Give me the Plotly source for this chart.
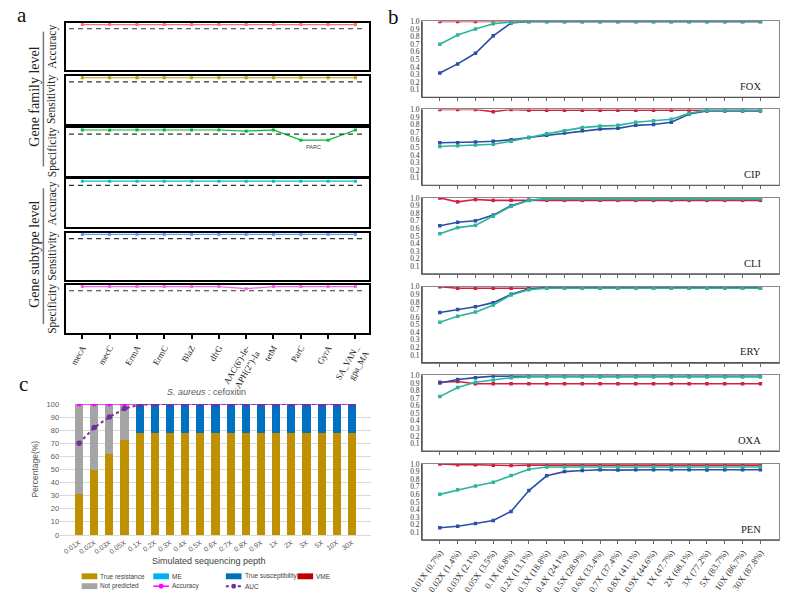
import plotly.graph_objects as go

W, H = 785, 602
SERIF = "Liberation Serif, Times New Roman, serif"
SANS = "Liberation Sans, Arial, sans-serif"

# ---------------- panel a data ----------------
genes = ["mecA", "mecC", "ErmA", "ErmC", "BlaZ", "dfrG",
         "AAC(6')-Ie-<br>APH(2'')-Ia", "tetM", "ParC", "GyrA", "SA_VAN_<br>gpa_MA"]
a_rows = ["Accuracy", "Sensitivity", "Specificity", "Accuracy", "Sensitivity", "Specificity"]
fam_accuracy = [0.99, 0.99, 0.99, 0.99, 0.99, 0.99, 0.99, 0.99, 0.99, 0.99, 0.99]
fam_sensitivity = [0.99, 0.99, 0.99, 0.99, 0.99, 0.99, 0.99, 0.99, 0.99, 0.99, 0.99]
fam_specificity = [0.99, 0.985, 0.99, 0.99, 0.99, 0.99, 0.965, 0.99, 0.77, 0.77, 0.99]
sub_accuracy = [0.99, 0.99, 0.99, 0.99, 0.99, 0.99, 0.99, 0.99, 0.99, 0.99, 0.99]
sub_sensitivity = [0.99, 0.99, 0.99, 0.99, 0.99, 0.99, 0.99, 0.99, 0.99, 0.99, 0.99]
sub_specificity = [0.99, 0.99, 0.99, 0.99, 0.99, 0.99, 0.945, 0.99, 0.99, 0.99, 0.99]
a_series = [fam_accuracy, fam_sensitivity, fam_specificity,
            sub_accuracy, sub_sensitivity, sub_specificity]
a_colors = ["#F8766D", "#B79F00", "#00BA38", "#00BFC4", "#619CFF", "#F564E3"]
a_threshold = 0.9
a_note = ("ParC", "PARC")

# ---------------- panel b data ----------------
depths_b = ["0.01X (0.7%)", "0.02X (1.4%)", "0.03X (2.1%)", "0.05X (3.5%)", "0.1X (6.8%)",
            "0.2X (13.1%)", "0.3X (18.8%)", "0.4X (24.1%)", "0.5X (28.9%)", "0.6X (33.4%)",
            "0.7X (37.4%)", "0.8X (41.1%)", "0.9X (44.6%)", "1X (47.7%)", "2X (68.1%)",
            "3X (77.2%)", "5X (83.7%)", "10X (86.7%)", "30X (87.8%)"]
drugs = ["FOX", "CIP", "CLI", "ERY", "OXA", "PEN"]
b_red = {
    "FOX": [1.0, 1.0, 1.0, 1.0, 1.0, 1.0, 1.0, 1.0, 1.0, 1.0, 1.0, 1.0, 1.0, 1.0, 1.0, 1.0, 1.0, 1.0, 1.0],
    "CIP": [1.0, 1.0, 1.0, 0.97, 1.0, 0.99, 0.99, 0.99, 0.99, 0.99, 0.99, 0.99, 0.99, 0.99, 0.99, 0.99, 0.99, 0.99, 0.99],
    "CLI": [1.0, 0.95, 0.98, 0.97, 0.97, 0.97, 0.97, 0.97, 0.97, 0.97, 0.97, 0.97, 0.97, 0.97, 0.97, 0.97, 0.97, 0.97, 0.97],
    "ERY": [1.0, 0.98, 0.98, 0.98, 0.98, 0.98, 0.98, 0.98, 0.98, 0.98, 0.98, 0.98, 0.98, 0.98, 0.98, 0.98, 0.98, 0.98, 0.98],
    "OXA": [0.91, 0.92, 0.89, 0.89, 0.89, 0.89, 0.89, 0.89, 0.89, 0.89, 0.89, 0.89, 0.89, 0.89, 0.89, 0.89, 0.89, 0.89, 0.89],
    "PEN": [1.0, 0.99, 0.99, 0.985, 0.98, 0.985, 0.985, 0.985, 0.985, 0.985, 0.985, 0.985, 0.985, 0.985, 0.985, 0.985, 0.985, 0.985, 0.985],
}
b_teal = {
    "FOX": [0.70, 0.82, 0.90, 0.97, 0.99, 1.0, 1.0, 1.0, 1.0, 1.0, 1.0, 1.0, 1.0, 1.0, 1.0, 1.0, 1.0, 1.0, 1.0],
    "CIP": [0.51, 0.52, 0.53, 0.54, 0.58, 0.63, 0.68, 0.72, 0.76, 0.78, 0.79, 0.83, 0.85, 0.87, 0.95, 0.99, 0.99, 0.99, 0.99],
    "CLI": [0.53, 0.61, 0.64, 0.76, 0.89, 0.97, 0.99, 0.99, 0.99, 0.99, 0.99, 0.99, 0.99, 0.99, 0.99, 0.99, 0.99, 0.99, 0.99],
    "ERY": [0.53, 0.61, 0.665, 0.76, 0.89, 0.96, 0.98, 0.98, 0.98, 0.98, 0.98, 0.98, 0.98, 0.98, 0.98, 0.98, 0.98, 0.98, 0.98],
    "OXA": [0.72, 0.84, 0.91, 0.94, 0.97, 0.98, 0.98, 0.98, 0.98, 0.98, 0.98, 0.98, 0.98, 0.98, 0.98, 0.98, 0.98, 0.98, 0.98],
    "PEN": [0.60, 0.66, 0.71, 0.76, 0.85, 0.93, 0.96, 0.96, 0.96, 0.96, 0.96, 0.96, 0.96, 0.96, 0.96, 0.96, 0.96, 0.96, 0.96],
}
b_blue = {
    "FOX": [0.32, 0.44, 0.58, 0.81, 0.98, 1.0, 1.0, 1.0, 1.0, 1.0, 1.0, 1.0, 1.0, 1.0, 1.0, 1.0, 1.0, 1.0, 1.0],
    "CIP": [0.56, 0.56, 0.57, 0.58, 0.60, 0.63, 0.66, 0.69, 0.72, 0.74, 0.75, 0.79, 0.80, 0.83, 0.94, 0.98, 0.98, 0.98, 0.98],
    "CLI": [0.635, 0.68, 0.70, 0.775, 0.90, 0.97, 0.99, 0.99, 0.99, 0.99, 0.99, 0.99, 0.99, 0.99, 0.99, 0.99, 0.99, 0.99, 0.99],
    "ERY": [0.66, 0.70, 0.735, 0.79, 0.90, 0.97, 0.99, 0.99, 0.99, 0.99, 0.99, 0.99, 0.99, 0.99, 0.99, 0.99, 0.99, 0.99, 0.99],
    "OXA": [0.90, 0.945, 0.97, 0.99, 0.99, 0.99, 0.99, 0.99, 0.99, 0.99, 0.99, 0.99, 0.99, 0.99, 0.99, 0.99, 0.99, 0.99, 0.99],
    "PEN": [0.16, 0.18, 0.215, 0.255, 0.375, 0.65, 0.845, 0.90, 0.915, 0.925, 0.92, 0.925, 0.925, 0.925, 0.925, 0.92, 0.925, 0.925, 0.925],
}
b_colors = {"red": "#D2203F", "teal": "#2DB49C", "blue": "#2A4FA6"}
b_ticks = [0.1, 0.2, 0.3, 0.4, 0.5, 0.6, 0.7, 0.8, 0.9, 1.0]
b_ticktext = ["0.1", "0.2", "0.3", "0.4", "0.5", "0.6", "0.7", "0.8", "0.9", "1.0"]

# ---------------- panel c data ----------------
depths_c = ["0.01X", "0.02X", "0.03X", "0.05X", "0.1X", "0.2X", "0.3X", "0.4X", "0.5X", "0.6X",
            "0.7X", "0.8X", "0.9X", "1X", "2X", "3X", "5X", "10X", "30X"]
true_resistance = [31, 49.5, 62, 72.5, 77.5, 78, 78, 78, 78, 78, 78, 78, 78, 78, 78, 78, 78, 78, 78]
me = [0, 0, 0, 0, 0, 0, 0, 0, 0, 0, 0, 0, 0, 0, 0, 0, 0, 0, 0]
true_susceptibility = [0, 0, 0, 0, 22.5, 22, 22, 22, 22, 22, 22, 22, 22, 22, 22, 22, 22, 22, 22]
vme = [0, 0, 0, 0, 0, 0, 0, 0, 0, 0, 0, 0, 0, 0, 0, 0, 0, 0, 0]
not_predicted = [69, 50.5, 38, 27.5, 0, 0, 0, 0, 0, 0, 0, 0, 0, 0, 0, 0, 0, 0, 0]
accuracy_c = [100, 100, 100, 100, 100, 100, 100, 100, 100, 100, 100, 100, 100, 100, 100, 100, 100, 100, 100]
auc_c = [70, 82, 90, 96.5, 99.5, 100, 100, 100, 100, 100, 100, 100, 100, 100, 100, 100, 100, 100, 100]
c_bar_names = ["True resistance", "ME", "True susceptibility", "VME", "Not predicted"]
c_bar_values = [true_resistance, me, true_susceptibility, vme, not_predicted]
c_bar_colors = ["#BF9000", "#00B0F0", "#0070C0", "#C00000", "#A5A5A5"]
c_ticks = [0, 10, 20, 30, 40, 50, 60, 70, 80, 90, 100]


def px(x):
    return x / W


def py(y):
    return 1 - y / H


def ax_name(i, kind):
    return f"{kind}axis" if i == 1 else f"{kind}axis{i}"


def ref(i, kind):
    return kind if i == 1 else f"{kind}{i}"


def note(text, x, y, size, family, color, angle=0, xanchor="center"):
    return dict(text=text, x=px(x), y=py(y), xref="paper", yref="paper",
                xanchor=xanchor, yanchor="middle", textangle=angle, showarrow=False,
                font=dict(family=family, size=size, color=color))


fig = go.Figure()
layout = {}
shapes = []
annotations = []

# ---------------- panel a ----------------
a_left, a_right = 54, 363
a_tops = [19, 73, 126, 178, 232, 285]
a_h = 48.5
for k in range(6):
    i = k + 1
    bottom = (k == 5)
    fig.add_trace(go.Scatter(
        x=genes, y=a_series[k], mode="lines+markers",
        line=dict(color=a_colors[k], width=1.2),
        marker=dict(symbol="square", size=3, color=a_colors[k]),
        xaxis=ref(i, "x"), yaxis=ref(i, "y"), showlegend=False, name=a_rows[k]))
    layout[ax_name(i, "x")] = dict(
        domain=[px(a_left), px(a_right)], anchor=ref(i, "y"),
        type="category", range=[-0.6, 10.5],
        showline=True, mirror=True, linecolor="black", linewidth=1.5,
        showgrid=False, zeroline=False,
        ticks="outside" if bottom else "", ticklen=5, tickwidth=1.5, tickcolor="black",
        showticklabels=bottom, tickangle=-60,
        tickfont=dict(family=SERIF, size=8.8, color="#222"))
    layout[ax_name(i, "y")] = dict(
        domain=[py(a_tops[k] + a_h), py(a_tops[k])], anchor=ref(i, "x"),
        range=[0, 1.03], showline=True, mirror=True, linecolor="black", linewidth=1.5,
        showgrid=False, zeroline=False, ticks="", showticklabels=False)
    shapes.append(dict(type="line", xref=f"{ref(i, 'x')} domain", yref=ref(i, "y"),
                       x0=0.01, x1=0.99, y0=a_threshold, y1=a_threshold,
                       line=dict(color="#333", width=1.2, dash="5px,4px")))
    annotations.append(note(a_rows[k], 40, a_tops[k] + a_h / 2, 11.5, SERIF, "#222", -90))

# PARC note
annotations.append(dict(text=a_note[1], x=a_note[0], y=0.63, xref="x3", yref="y3",
                        xshift=13, xanchor="center", yanchor="middle", showarrow=False,
                        font=dict(family=SANS, size=5.5, color="#444")))
# group labels
for label, top, bot, lt, lb in [("Gene family level", a_tops[0], a_tops[2] + a_h, 28, 165),
                                 ("Gene subtype level", a_tops[3], a_tops[5] + a_h, 187, 325)]:
    annotations.append(note(label, 22, (lt + lb) / 2 - 2, 14, SERIF, "#222", -90))
    shapes.append(dict(type="line", xref="paper", yref="paper", x0=px(31), x1=px(31),
                       y0=py(lt), y1=py(lb), line=dict(color="#777", width=1.5)))

# ---------------- panel b ----------------
b_left, b_right = 417, 781
b_tops = [17.7, 107, 197, 287, 377, 467]
b_h = 77
for k, drug in enumerate(drugs):
    i = 7 + k
    bottom = (k == 5)
    for key, data in [("red", b_red), ("blue", b_blue), ("teal", b_teal)]:
        fig.add_trace(go.Scatter(
            x=depths_b, y=data[drug], mode="lines+markers",
            line=dict(color=b_colors[key], width=1.6),
            marker=dict(symbol="square", size=3.5, color=b_colors[key]),
            xaxis=ref(i, "x"), yaxis=ref(i, "y"), showlegend=False, name=f"{drug} {key}"))
    layout[ax_name(i, "x")] = dict(
        domain=[px(b_left), px(b_right)], anchor=ref(i, "y"),
        type="category", range=[-1, 19.05],
        showline=True, mirror=True, linecolor="#888", linewidth=1,
        showgrid=False, zeroline=False,
        ticks="outside", ticklen=3, tickwidth=1, tickcolor="#666",
        showticklabels=bottom, tickangle=-55,
        tickfont=dict(family=SERIF, size=9, color="#333"))
    layout[ax_name(i, "y")] = dict(
        domain=[py(b_tops[k] + b_h), py(b_tops[k])], anchor=ref(i, "x"),
        range=[0, 1.0], showline=True, mirror=True, linecolor="#888", linewidth=1,
        showgrid=False, zeroline=False, ticks="", tickvals=b_ticks, ticktext=b_ticktext,
        tickfont=dict(family=SERIF, size=7.5, color="#333"))
    shapes.append(dict(type="line", xref=f"{ref(i, 'x')} domain", yref=f"{ref(i, 'y')} domain",
                       x0=0, x1=0, y0=0, y1=1, line=dict(color="#333", width=1.2)))
    shapes.append(dict(type="line", xref=f"{ref(i, 'x')} domain", yref=f"{ref(i, 'y')} domain",
                       x0=0, x1=1, y0=0, y1=0, line=dict(color="#555", width=1.2)))
    annotations.append(note(drug, 765, b_tops[k] + b_h - 11, 10.5, SERIF, "#222", 0, "right"))

# ---------------- panel c ----------------
ic = 13
for name, vals, col in zip(c_bar_names, c_bar_values, c_bar_colors):
    fig.add_trace(go.Bar(x=depths_c, y=vals, name=name, marker=dict(color=col, line=dict(width=0)),
                         xaxis=ref(ic, "x"), yaxis=ref(ic, "y"), showlegend=False))
fig.add_trace(go.Scatter(x=depths_c, y=accuracy_c, name="Accuracy", mode="lines+markers",
                         line=dict(color="#FF00FF", width=1.5),
                         marker=dict(symbol="circle", size=5, color="#FF00FF"),
                         xaxis=ref(ic, "x"), yaxis=ref(ic, "y"), showlegend=False))
fig.add_trace(go.Scatter(x=depths_c, y=auc_c, name="AUC", mode="lines+markers",
                         line=dict(color="#7030A0", width=2, dash="dot"),
                         marker=dict(symbol="circle", size=5.5, color="#7030A0"),
                         xaxis=ref(ic, "x"), yaxis=ref(ic, "y"), showlegend=False))
layout[ax_name(ic, "x")] = dict(
    domain=[px(48), px(365)], anchor=ref(ic, "y"), type="category",
    showline=True, linecolor="#D9D9D9", linewidth=1, showgrid=False, zeroline=False,
    ticks="", tickangle=-35, tickfont=dict(family=SANS, size=7, color="#595959"))
layout[ax_name(ic, "y")] = dict(
    domain=[py(539), py(406)], anchor=ref(ic, "x"), range=[0, 100],
    tickvals=c_ticks, ticksuffix="%", showgrid=True, gridcolor="#D9D9D9", gridwidth=1,
    zeroline=False, showline=False, ticks="",
    tickfont=dict(family=SANS, size=7.5, color="#595959"))

annotations.append(note("<i>S. aureus</i> : cefoxitin", 197, 394, 9, SANS, "#595959"))
annotations.append(note("Percentage(%)", 22, 472, 8.5, SANS, "#595959", -90))
annotations.append(note("Simulated sequencing pepth", 200, 565, 9, SANS, "#404040"))

# custom legend for panel c
leg_items = [
    ("True resistance", "box", c_bar_colors[0], 70, 581),
    ("ME", "box", c_bar_colors[1], 143, 581),
    ("True susceptibility", "box", c_bar_colors[2], 217, 581),
    ("VME", "box", c_bar_colors[3], 290, 581),
    ("Not predicted", "box", c_bar_colors[4], 70, 591),
    ("Accuracy", "line", "#FF00FF", 143, 591),
    ("AUC", "dot", "#7030A0", 217, 591),
]
for text, kind, col, x0, yc in leg_items:
    if kind == "box":
        shapes.append(dict(type="rect", xref="paper", yref="paper", x0=px(x0), x1=px(x0 + 16),
                           y0=py(yc + 3), y1=py(yc - 3), fillcolor=col, line=dict(width=0)))
    else:
        shapes.append(dict(type="line", xref="paper", yref="paper", x0=px(x0), x1=px(x0 + 16),
                           y0=py(yc), y1=py(yc),
                           line=dict(color=col, width=1.5 if kind == "line" else 2,
                                     dash="solid" if kind == "line" else "dot")))
        shapes.append(dict(type="circle", xref="paper", yref="paper", x0=px(x0 + 5.5),
                           x1=px(x0 + 10.5), y0=py(yc + 2.5), y1=py(yc - 2.5),
                           fillcolor=col, line=dict(width=0)))
    annotations.append(note(text, x0 + 17, yc, 6.5, SANS, "#404040", 0, "left"))

# panel letters
for letter, x, y in [("a", 9, 11), ("b", 388, 13), ("c", 11, 386)]:
    annotations.append(note(letter, x, y, 21, SERIF, "#111"))

fig.update_layout(
    width=W, height=H, margin=dict(l=0, r=0, t=0, b=0),
    paper_bgcolor="white", plot_bgcolor="white",
    barmode="stack", bargap=0.46, showlegend=False,
    shapes=shapes, annotations=annotations, **layout)

fig.write_html("out.html")
